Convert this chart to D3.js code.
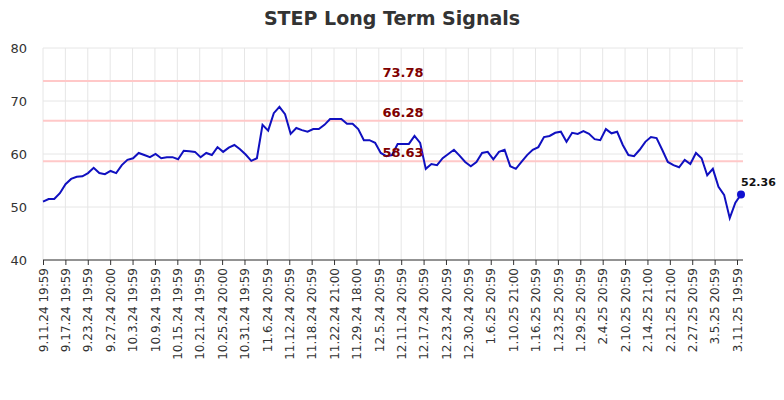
<!DOCTYPE html>
<html>
<head>
<meta charset="utf-8">
<script src="https://cdn.jsdelivr.net/npm/d3@7"></script>
<style>
  body { margin: 0; background: #fff; }
  text { font-family: "DejaVu Sans", sans-serif; }
</style>
</head>
<body>
<svg id="chart" width="784" height="400"></svg>
<script>
var tickLabels = ["9.11.24 19:59", "9.17.24 19:59", "9.23.24 19:59", "9.27.24 20:00", "10.3.24 19:59",
  "10.9.24 19:59", "10.15.24 19:59", "10.21.24 19:59", "10.25.24 20:00", "10.31.24 19:59",
  "11.6.24 20:59", "11.12.24 20:59", "11.18.24 20:59", "11.22.24 21:00", "11.29.24 18:00",
  "12.5.24 20:59", "12.11.24 20:59", "12.17.24 20:59", "12.23.24 20:59", "12.30.24 20:59",
  "1.6.25 20:59", "1.10.25 21:00", "1.16.25 20:59", "1.23.25 20:59", "1.29.25 20:59",
  "2.4.25 20:59", "2.10.25 20:59", "2.14.25 21:00", "2.21.25 21:00", "2.27.25 20:59",
  "3.5.25 20:59", "3.11.25 19:59"];

var values = [51.0, 51.5, 51.5, 52.6, 54.3, 55.3, 55.7, 55.8, 56.4, 57.4, 56.4, 56.2, 56.8, 56.4,
  57.9, 58.9, 59.2, 60.2, 59.8, 59.4, 60.0, 59.2, 59.4, 59.4, 59.0, 60.6, 60.5, 60.4, 59.4, 60.2,
  59.8, 61.3, 60.4, 61.2, 61.7, 60.9, 59.9, 58.7, 59.2,
  65.5, 64.4, 67.7, 68.9, 67.5, 63.8, 64.9, 64.5, 64.2, 64.7, 64.7, 65.5, 66.6, 66.6, 66.6, 65.7,
  65.7, 64.7, 62.6, 62.6, 62.1, 60.2, 59.6, 59.8, 61.9, 61.9, 61.9, 63.4, 62.1, 57.2, 58.1, 57.9,
  59.2, 60.0, 60.8, 59.7, 58.5, 57.7, 58.5, 60.2, 60.4, 59.0,
  60.4, 60.8, 57.7, 57.2, 58.5, 59.8, 60.8, 61.3, 63.2, 63.4, 64.0, 64.2, 62.3, 64.0, 63.8, 64.3,
  63.8, 62.8, 62.6, 64.7, 63.9, 64.2, 61.7, 59.8, 59.6, 60.8, 62.3, 63.2, 63.0, 60.8, 58.5, 57.9,
  57.5, 58.9, 58.1, 60.2, 59.2, 56.0, 57.2, 53.8, 52.3, 47.9, 50.8, 52.36];

var levels = [73.78, 66.28, 58.63];
var yTicks = [40, 50, 60, 70, 80];

var svg = d3.select("#chart");
var m = { left: 43, right: 743, top: 48, bottom: 260 };

var y = d3.scaleLinear().domain([40, 80]).range([m.bottom, m.top]);
var x = d3.scaleLinear().domain([0, values.length - 1]).range([m.left, 741]);
var xl = d3.scalePoint().domain(tickLabels).range([m.left, 737]);

// grid
svg.append("g").selectAll("line").data(yTicks).enter().append("line")
  .attr("x1", m.left).attr("x2", m.right)
  .attr("y1", function (d) { return y(d); }).attr("y2", function (d) { return y(d); })
  .attr("stroke", "#e6e6e6");
svg.append("g").selectAll("line").data(tickLabels).enter().append("line")
  .attr("x1", function (d) { return xl(d); }).attr("x2", function (d) { return xl(d); })
  .attr("y1", m.top).attr("y2", m.bottom)
  .attr("stroke", "#e6e6e6");

// axes
var yAxis = svg.append("g").attr("transform", "translate(" + m.left + ",0)")
  .call(d3.axisLeft(y).tickValues(yTicks).tickSize(0).tickPadding(16));
yAxis.select(".domain").remove();
yAxis.selectAll("text").attr("font-size", 13).attr("fill", "#333");

var xAxis = svg.append("g").attr("transform", "translate(0," + m.bottom + ")")
  .call(d3.axisBottom(xl).tickSize(5));
xAxis.select(".domain").attr("d", "M" + m.left + ",0H" + m.right).attr("stroke", "#333");
xAxis.selectAll(".tick line").attr("stroke", "#333");
xAxis.selectAll("text").attr("font-size", 12).attr("fill", "#333")
  .attr("transform", "rotate(-90)").attr("text-anchor", "end")
  .attr("dx", "-0.5em").attr("dy", "0.35em").attr("x", -2).attr("y", 0);

// signal levels
svg.append("g").selectAll("line").data(levels).enter().append("line")
  .attr("x1", m.left).attr("x2", m.right)
  .attr("y1", function (d) { return y(d); }).attr("y2", function (d) { return y(d); })
  .attr("stroke", "#ffc8c8").attr("stroke-width", 2);

// line
svg.append("path").datum(values)
  .attr("fill", "none").attr("stroke", "#1010c0").attr("stroke-width", 2)
  .attr("d", d3.line().x(function (d, i) { return x(i); }).y(function (d) { return y(d); }));

svg.append("g").selectAll("text").data(levels).enter().append("text")
  .attr("x", 403).attr("y", function (d) { return y(d) - 4; })
  .attr("text-anchor", "middle").attr("font-size", 13).attr("font-weight", "bold")
  .attr("fill", "#800000").text(function (d) { return d.toFixed(2); });

var last = values.length - 1;
svg.append("circle").attr("cx", x(last)).attr("cy", y(values[last])).attr("r", 4).attr("fill", "#1010d0");
svg.append("text").attr("x", x(last)).attr("y", y(values[last]) - 8)
  .attr("font-size", 11).attr("font-weight", "bold").attr("fill", "#111").text(values[last].toFixed(2));

svg.append("text").attr("x", 392).attr("y", 25).attr("text-anchor", "middle")
  .attr("font-size", 19).attr("font-weight", "bold").attr("fill", "#333")
  .text("STEP Long Term Signals");
</script>
</body>
</html>
